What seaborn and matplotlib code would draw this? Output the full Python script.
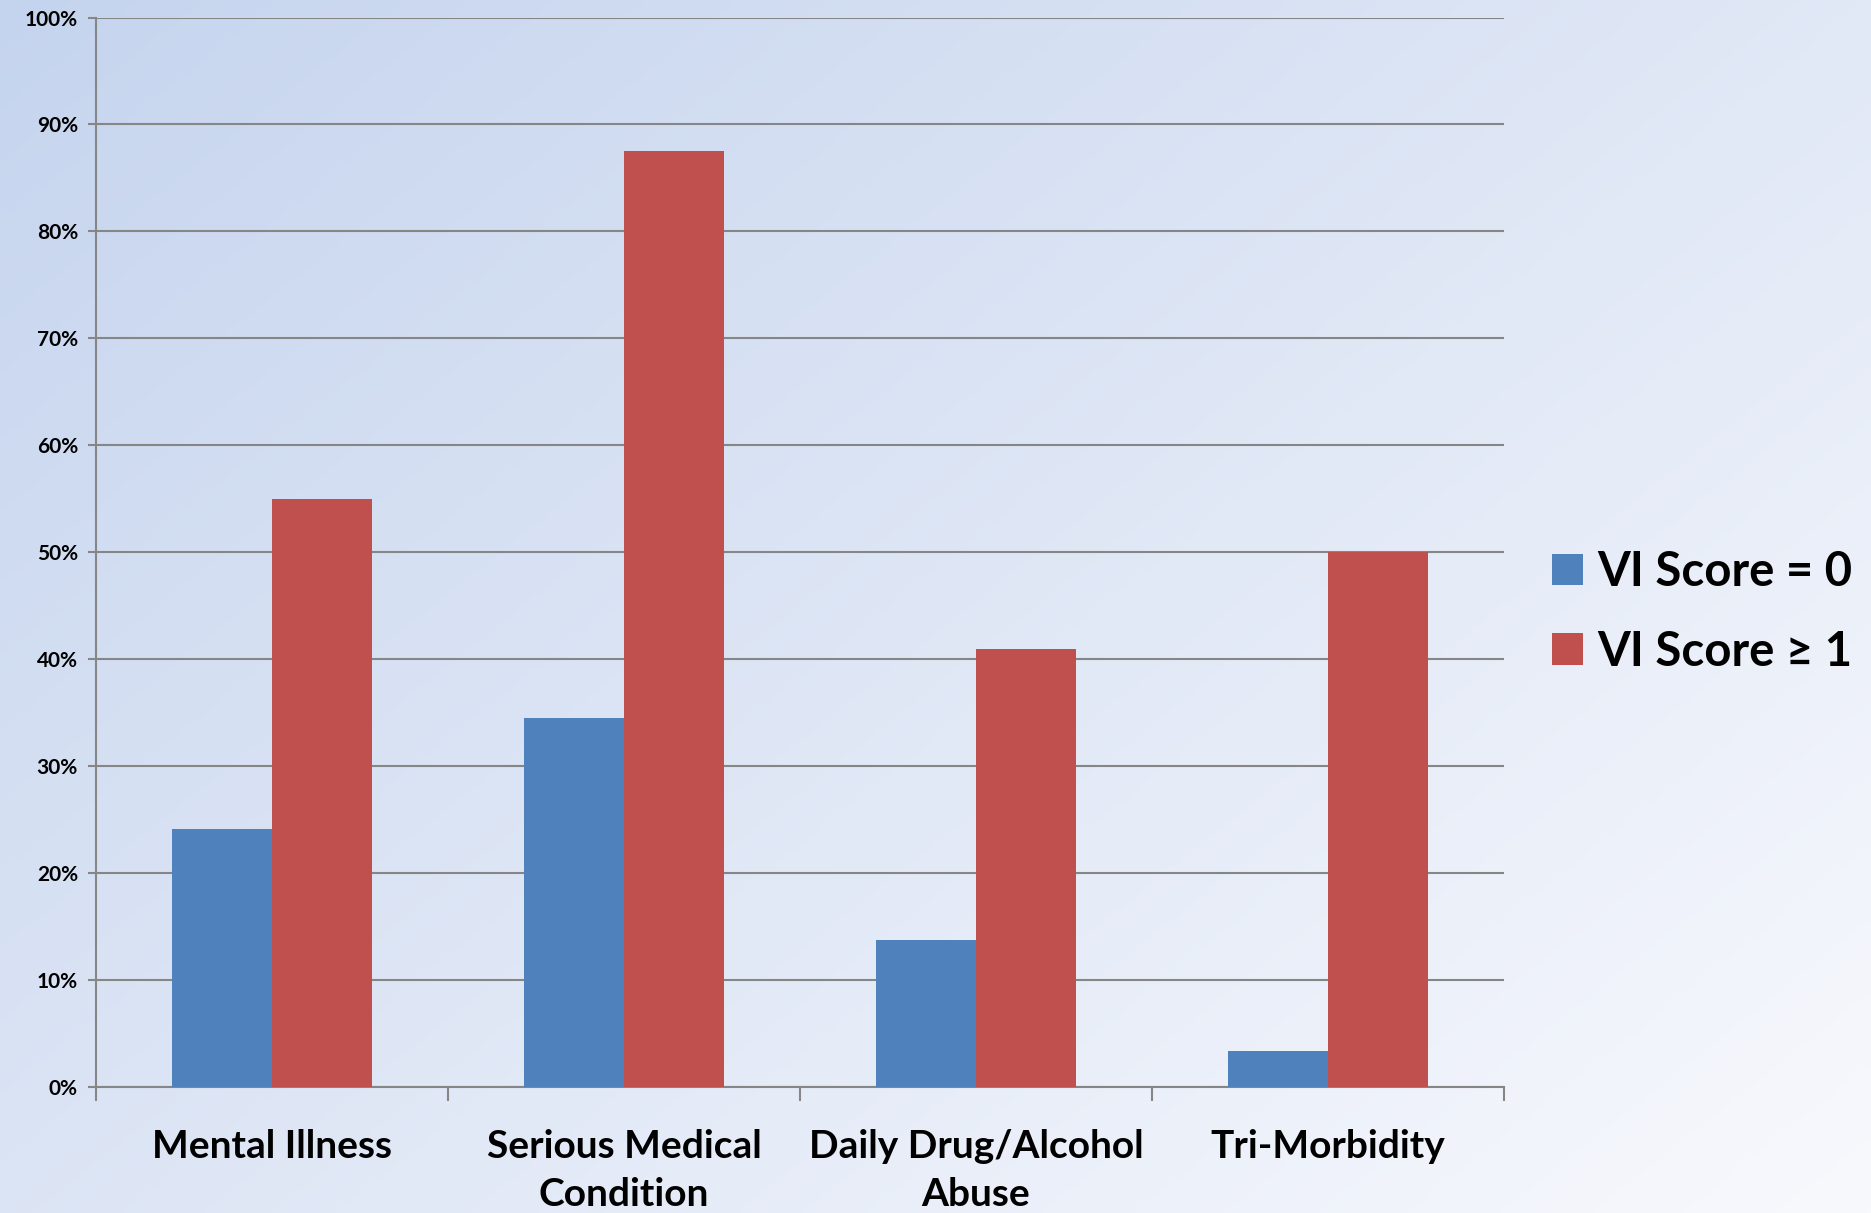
import numpy as np
import pandas as pd
import seaborn as sns
import matplotlib.pyplot as plt
from matplotlib.ticker import PercentFormatter, FixedLocator

# ---------------- data ----------------
categories = ["Mental Illness", "Serious Medical\nCondition", "Daily Drug/Alcohol\nAbuse", "Tri-Morbidity"]
series_names = ["VI Score = 0", "VI Score \u2265 1"]
score_0 = [24.1, 34.5, 13.7, 3.4]
score_1 = [55.0, 87.5, 41.0, 50.0]
colors = ["#4F81BD", "#C0504D"]

df = pd.DataFrame({
    "category": categories * 2,
    "group": [series_names[0]] * 4 + [series_names[1]] * 4,
    "value": score_0 + score_1,
})

# ---------------- style ----------------
sns.set_style("white")
plt.rcParams["font.family"] = ["Lato", "DejaVu Sans"]
plt.rcParams["font.weight"] = "bold"
plt.rcParams["text.color"] = "black"
plt.rcParams["xtick.color"] = "black"
plt.rcParams["ytick.color"] = "black"

fig = plt.figure(figsize=(18.71, 12.13), dpi=100)

# gradient background
bg = fig.add_axes([0, 0, 1, 1], zorder=-10)
xx, yy = np.meshgrid(np.linspace(0, 1, 400), np.linspace(0, 1, 300))
t = np.clip((xx * 0.55 + yy * 0.45), 0, 1)
c0 = np.array([0xC5, 0xD4, 0xEE]) / 255
c1 = np.array([0xF8, 0xF9, 0xFD]) / 255
img = c0[None, None, :] * (1 - t[..., None]) + c1[None, None, :] * t[..., None]
bg.imshow(img, aspect="auto", extent=[0, 1, 0, 1], origin="upper")
bg.axis("off")

ax = fig.add_axes([96 / 1871, 1 - 1087 / 1213, (1504 - 96) / 1871, (1087 - 17.5) / 1213])
ax.set_facecolor("none")

sns.barplot(data=df, x="category", y="value", hue="group", palette=colors,
            width=0.57, saturation=1, linewidth=0, ax=ax, legend=True, zorder=3)

ax.set_ylim(0, 100)
ax.set_xlim(-0.5, 3.5)
ax.yaxis.set_major_locator(FixedLocator(np.arange(0, 101, 10)))
ax.yaxis.set_major_formatter(PercentFormatter(decimals=0))
ax.grid(axis="y", color="#868686", linewidth=1.5, zorder=0)
ax.set_axisbelow(True)

for s in ["top", "right"]:
    ax.spines[s].set_visible(False)
for s in ["left", "bottom"]:
    ax.spines[s].set_color("#868686")
    ax.spines[s].set_linewidth(1.5)

ax.tick_params(axis="y", which="major", left=True, length=6, width=1.5, color="#868686",
               pad=7, labelsize=15, labelcolor="black")
for lab in ax.get_yticklabels():
    lab.set_fontweight("bold")

# category boundaries as ticks, labels as minor ticks
ax.set_xticks([-0.5, 0.5, 1.5, 2.5, 3.5])
ax.set_xticklabels([])
ax.tick_params(axis="x", which="major", bottom=True, length=10, width=1.5, color="#868686")
ax.set_xticks(range(len(categories)), minor=True)
ax.set_xticklabels(categories, minor=True, fontsize=28, fontweight="bold", linespacing=1.45)
ax.tick_params(axis="x", which="minor", length=0, pad=30, labelcolor="black")

ax.set_xlabel("")
ax.set_ylabel("")

handles, labels = ax.get_legend_handles_labels()
ax.legend(handles, labels, loc="center left", bbox_to_anchor=(1552 / 1871, 1 - 612 / 1213),
          bbox_transform=fig.transFigure, frameon=False,
          prop={"weight": "bold", "size": 34},
          handlelength=0.65, handleheight=0.65, handletextpad=0.3,
          labelspacing=0.75, borderpad=0, borderaxespad=0)

fig.savefig("out.png", dpi=100)
